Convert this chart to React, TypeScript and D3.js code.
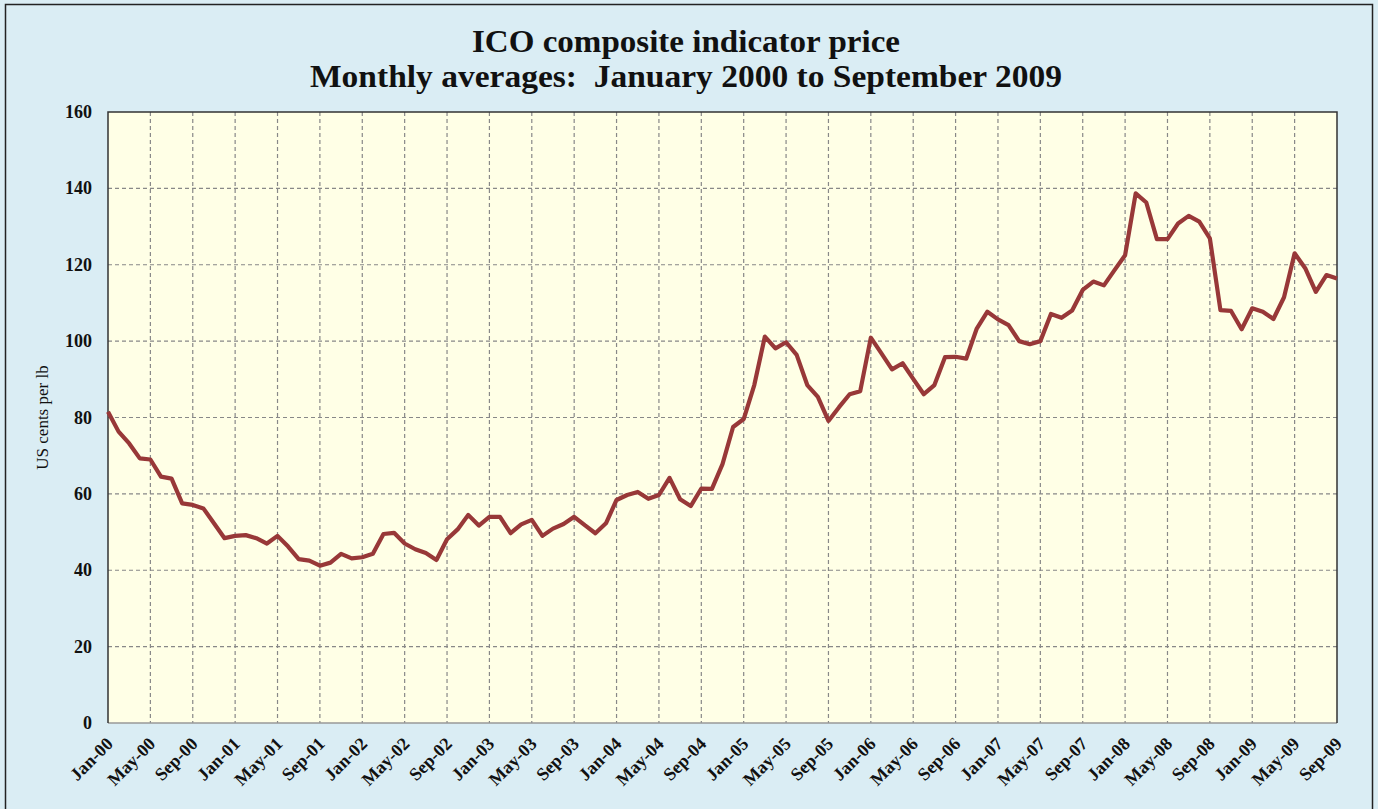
import React, { useEffect, useRef } from 'react';
import * as d3 from 'd3';

// monthly averages, US cents per lb, Jan 2000 .. Sep 2009
const prices2000 = [81.5, 76.3, 73.2, 69.3, 69.0, 64.5, 64.0, 57.5, 57.1, 56.2, 52.3, 48.4];
const prices2001 = [49.0, 49.2, 48.4, 47.0, 49.0, 46.2, 42.9, 42.5, 41.2, 42.0, 44.3, 43.1];
const prices2002 = [43.4, 44.3, 49.5, 49.8, 47.0, 45.5, 44.5, 42.7, 48.1, 50.7, 54.5, 51.7];
const prices2003 = [54.0, 54.0, 49.7, 52.0, 53.2, 49.0, 50.9, 52.1, 54.0, 51.8, 49.7, 52.3];
const prices2004 = [58.4, 59.7, 60.5, 58.7, 59.7, 64.2, 58.6, 56.8, 61.4, 61.3, 67.8, 77.5];
const prices2005 = [79.6, 88.5, 101.2, 98.1, 99.7, 96.4, 88.5, 85.4, 79.1, 82.7, 86.1, 86.9];
const prices2006 = [100.9, 96.8, 92.6, 94.2, 90.1, 86.1, 88.5, 95.8, 95.9, 95.4, 103.3, 107.7];
const prices2007 = [105.7, 104.2, 100.0, 99.2, 100.0, 107.1, 106.1, 108.0, 113.4, 115.6, 114.6, 118.6];
const prices2008 = [122.5, 138.7, 136.3, 126.7, 126.7, 130.8, 132.8, 131.3, 126.9, 108.1, 107.9, 103.1];
const prices2009 = [108.6, 107.7, 105.8, 111.5, 123.0, 119.1, 112.9, 117.3, 116.4];

const monthNames = ['Jan', 'Feb', 'Mar', 'Apr', 'May', 'Jun', 'Jul', 'Aug', 'Sep', 'Oct', 'Nov', 'Dec'];
const yTicks = [0, 20, 40, 60, 80, 100, 120, 140, 160];

const titleLine1 = 'ICO composite indicator price';
const titleLine2 = 'Monthly averages:  January 2000 to September 2009';
const yLabel = 'US cents per lb';

const W = 1378;
const H = 809;
const margin = { left: 108, top: 112, right: 1337, bottom: 723 };
const serif = '"Liberation Serif", "Times New Roman", serif';

function App() {
  const ref = useRef<SVGSVGElement>(null);

  useEffect(() => {
    const prices = [
      ...prices2000, ...prices2001, ...prices2002, ...prices2003, ...prices2004,
      ...prices2005, ...prices2006, ...prices2007, ...prices2008, ...prices2009,
    ];
    const labels = prices.map((_, i) => {
      const yr = Math.floor(i / 12);
      return monthNames[i % 12] + '-' + String(yr).padStart(2, '0');
    });

    const svg = d3.select(ref.current);
    svg.selectAll('*').remove();

    const x = d3.scaleLinear().domain([0, prices.length - 1]).range([margin.left, margin.right]);
    const y = d3.scaleLinear().domain([0, 160]).range([margin.bottom, margin.top]);

    // background + frame
    svg.append('rect').attr('x', 0).attr('y', 0).attr('width', W).attr('height', H).attr('fill', '#daedf4');
    svg.append('rect')
      .attr('x', 5.5).attr('y', 4.5).attr('width', 1367).attr('height', H)
      .attr('fill', 'none').attr('stroke', '#222').attr('stroke-width', 1.5);

    // titles
    svg.append('text').attr('x', 686).attr('y', 52).attr('text-anchor', 'middle')
      .attr('textLength', 428).attr('lengthAdjust', 'spacingAndGlyphs')
      .style('font-family', serif).style('font-weight', 'bold').style('font-size', '31px')
      .attr('fill', '#111').text(titleLine1);
    svg.append('text').attr('x', 686).attr('y', 87).attr('text-anchor', 'middle')
      .attr('textLength', 752).attr('lengthAdjust', 'spacingAndGlyphs')
      .style('font-family', serif).style('font-weight', 'bold').style('font-size', '31px')
      .style('white-space', 'pre').attr('fill', '#111').text(titleLine2);

    // plot area
    svg.append('rect')
      .attr('x', margin.left).attr('y', margin.top)
      .attr('width', margin.right - margin.left).attr('height', margin.bottom - margin.top)
      .attr('fill', '#ffffe6');

    // grid
    const grid = svg.append('g').attr('stroke', '#888').attr('stroke-width', 1.2).attr('stroke-dasharray', '4,3');
    grid.selectAll('line.h')
      .data(yTicks.filter(d => d > 0 && d < 160))
      .enter().append('line')
      .attr('x1', margin.left).attr('x2', margin.right)
      .attr('y1', d => y(d)).attr('y2', d => y(d));
    const tickIdx = d3.range(4, prices.length - 1, 4);
    grid.selectAll('line.v')
      .data(tickIdx)
      .enter().append('line')
      .attr('x1', d => x(d)).attr('x2', d => x(d))
      .attr('y1', margin.top).attr('y2', margin.bottom);

    // plot border
    svg.append('line').attr('x1', margin.left).attr('x2', margin.right)
      .attr('y1', margin.bottom).attr('y2', margin.bottom).attr('stroke', '#999').attr('stroke-width', 1.5);
    svg.append('path')
      .attr('d', `M${margin.left},${margin.bottom}V${margin.top}H${margin.right}V${margin.bottom}`)
      .attr('fill', 'none').attr('stroke', '#333').attr('stroke-width', 1.5);

    // y tick labels
    svg.append('g').selectAll('text')
      .data(yTicks)
      .enter().append('text')
      .attr('x', 92).attr('y', d => y(d) + 6)
      .attr('text-anchor', 'end')
      .style('font-family', serif).style('font-weight', 'bold').style('font-size', '18px')
      .attr('fill', '#111')
      .text(d => d);

    // y label
    svg.append('text')
      .attr('transform', `translate(48,${(margin.top + margin.bottom) / 2}) rotate(-90)`)
      .attr('text-anchor', 'middle')
      .style('font-family', serif).style('font-size', '17px')
      .attr('fill', '#111').text(yLabel);

    // x tick labels
    const xLab = d3.range(0, prices.length, 4);
    svg.append('g').selectAll('text')
      .data(xLab)
      .enter().append('text')
      .attr('transform', d => `translate(${x(d) + 6},${margin.bottom + 22}) rotate(-45)`)
      .attr('text-anchor', 'end')
      .style('font-family', serif).style('font-weight', 'bold').style('font-size', '18px')
      .attr('fill', '#111')
      .text(d => labels[d]);

    // price line
    const line = d3.line<number>().x((_, i) => x(i)).y(d => y(d));
    svg.append('path')
      .datum(prices)
      .attr('d', line)
      .attr('fill', 'none')
      .attr('stroke', '#983838')
      .attr('stroke-width', 4.2)
      .attr('stroke-linejoin', 'round');
  }, []);

  return (
    <div style={{ position: 'absolute', left: 0, top: 0 }}>
      <svg ref={ref} width={W} height={H} style={{ display: 'block' }}></svg>
    </div>
  );
}

export default App;
